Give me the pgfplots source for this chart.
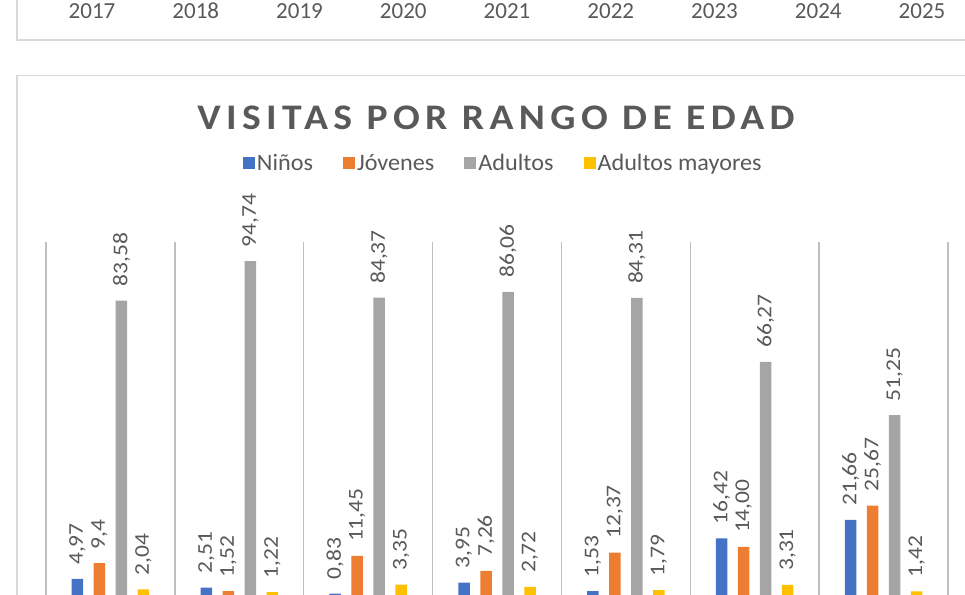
\documentclass[border=0pt]{standalone}
\usepackage{fontspec}
\setmainfont{Carlito}
\newfontfamily\titlefont[LetterSpace=15, FakeStretch=1.1]{Carlito}
\newfontfamily\lblfam[FakeStretch=1.12]{Carlito}
\newfontfamily\legfam[FakeStretch=1.03]{Carlito}
\usepackage{pgfplots}
\usepackage{pgfplotstable}
\pgfplotsset{compat=1.18}
\definecolor{cBlue}{HTML}{4472C4}
\definecolor{cOrange}{HTML}{ED7D31}
\definecolor{cGray}{HTML}{A5A5A5}
\definecolor{cYellow}{HTML}{FFC000}
\definecolor{txt}{HTML}{595959}
\definecolor{grid}{HTML}{D9D9D9}
\newcommand\lblfont{\lblfam\fontsize{21}{21}\selectfont}
\newcommand\legfont{\legfam\fontsize{23.5}{24}\selectfont}
\pgfplotstableread{
x n nl j jl a al m ml
0 4.97 4,97 9.4 9,4 83.58 83,58 2.04 2,04
1 2.51 2,51 1.52 1,52 94.74 94,74 1.22 1,22
2 0.83 0,83 11.45 11,45 84.37 84,37 3.35 3,35
3 3.95 3,95 7.26 7,26 86.06 86,06 2.72 2,72
4 1.53 1,53 12.37 12,37 84.31 84,31 1.79 1,79
5 16.42 16,42 14.00 14,00 66.27 66,27 3.31 3,31
6 21.66 21,66 25.67 25,67 51.25 51,25 1.42 1,42
}\datatable
\begin{document}
\begin{tikzpicture}[x=1pt,y=1pt]
\path[use as bounding box] (0,0) rectangle (965,594);
\clip (0,0) rectangle (965,594);
% top card remnant
\draw[grid, line width=1.5pt] (17,600) -- (17,554) -- (970,554);
\foreach \yr [count=\i from 0] in {2017,2018,2019,2020,2021,2022,2023,2024,2025}{
  \node[anchor=base, text=txt, font=\fontsize{23}{23}\selectfont, inner sep=0pt] at (92+103.75*\i,575) {\yr};
}
% second card
\draw[grid, line width=1.5pt] (17,-10) -- (17,518.5) -- (970,518.5);
\node[text=txt, font=\titlefont\bfseries\fontsize{36}{36}\selectfont, inner sep=0pt] at (496,476) {VISITAS POR RANGO DE EDAD};
\begin{axis}[
  at={(46pt,-2.5pt)}, anchor=south west,
  scale only axis, width=902pt, height=354.1pt,
  xmin=-0.5, xmax=6.5, ymin=0, ymax=100,
  clip=false,
  axis line style={draw=none},
  xtick={-0.5,0.5,1.5,2.5,3.5,4.5,5.5,6.5},
  xticklabels={},
  ytick=\empty,
  major tick length=0pt,
  xmajorgrids,
  grid style={grid, line width=1.5pt},
  ybar=10.5pt, bar width=11.5pt,
  point meta=explicit symbolic,
  nodes near coords={\lblfont\hspace*{14pt}\pgfplotspointmeta},
  nodes near coords style={rotate=90, anchor=west, text=txt, inner sep=0pt, outer sep=0pt},
  legend style={at={(0.507,1.223)}, anchor=center, draw=none, fill=none,
     font=\legfont, text=txt,
     /tikz/every even column/.append style={column sep=28pt}},
  legend columns=4,
  legend image code/.code={\fill[#1] (-1pt,-6pt) rectangle (11pt,6pt);},
]
\addplot[fill=cBlue, draw=none] table[x=x, y=n, meta=nl] {\datatable};
\addplot[fill=cOrange, draw=none] table[x=x, y=j, meta=jl] {\datatable};
\addplot[fill=cGray, draw=none] table[x=x, y=a, meta=al] {\datatable};
\addplot[fill=cYellow, draw=none] table[x=x, y=m, meta=ml] {\datatable};
\legend{Niños, Jóvenes, Adultos, Adultos mayores}
\end{axis}
\end{tikzpicture}
\end{document}
